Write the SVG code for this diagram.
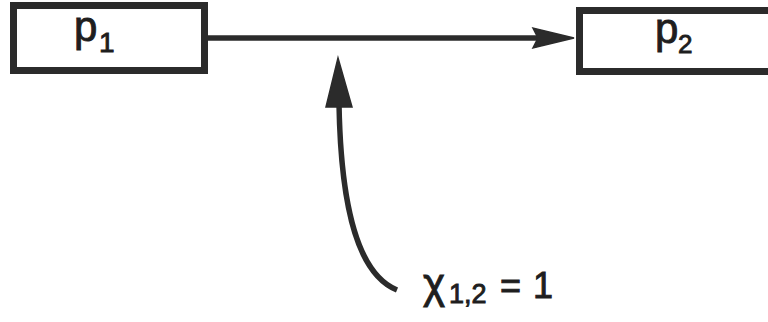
<svg xmlns="http://www.w3.org/2000/svg" width="768" height="322" viewBox="0 0 768 322">
<style>
.box{fill:#fff;stroke:#2b2b2b;stroke-width:7}
.lbl{font-family:"Liberation Sans",Arial,Helvetica,sans-serif;fill:#1e1e1e;stroke:#1e1e1e;stroke-width:0.9}
.conn{fill:none;stroke:#2b2b2b;stroke-width:5.5}
.head{fill:#2b2b2b;stroke:#2b2b2b;stroke-width:1.5;stroke-linejoin:miter}
</style>
<rect width="768" height="322" fill="#fff"/>
<g id="connectors">
<line class="conn" x1="208" y1="38" x2="540" y2="38"/>
<polygon class="head" points="574,38 533,28 538,38 533,48"/>
<path class="conn" d="M397 290 C360 275 341 215 339 104"/>
<polygon class="head" points="338,58 326,107 352,107"/>
</g>
<g id="p1">
<rect class="box" x="13.5" y="5.5" width="191" height="65"/>
<text class="lbl" x="74" y="41" font-size="42">p<tspan x="99" y="52" font-size="28">1</tspan></text>
</g>
<g id="p2">
<rect class="box" x="579.5" y="10.5" width="200" height="61"/>
<text class="lbl" x="655" y="43" font-size="42">p<tspan x="678" y="53" font-size="26">2</tspan></text>
</g>
<g id="label">
<text class="lbl" x="423" y="298" font-size="42">χ<tspan x="449" y="303" font-size="27">1,2</tspan><tspan x="500" y="298" font-size="36">=</tspan><tspan x="533" y="298" font-size="36">1</tspan></text>
</g>
</svg>
